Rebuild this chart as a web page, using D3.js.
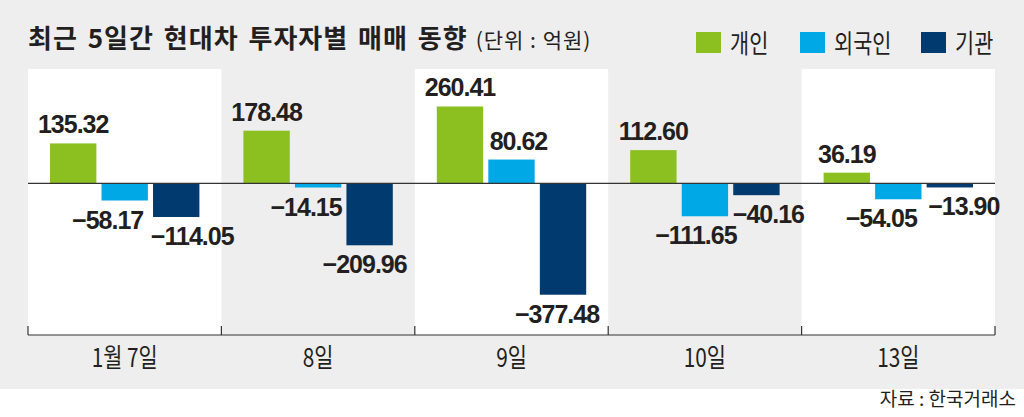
<!DOCTYPE html>
<html>
<head>
<meta charset="utf-8">
<script src="https://cdn.jsdelivr.net/npm/d3@7"></script>
<style>
  body { margin: 0; background: #fff; }
  svg { display: block; }
</style>
</head>
<body>
<div id="chart"></div>
<script>
const days = ["1월 7일", "8일", "9일", "10일", "13일"]
const seriesNames = ["개인", "외국인", "기관"]
const individual = [135.32, 178.48, 260.41, 112.60, 36.19]
const foreign = [-58.17, -14.15, 80.62, -111.65, -54.05]
const institution = [-114.05, -209.96, -377.48, -40.16, -13.90]

// horizontal nudges for value labels so neighbours don't collide (as in print)
const labelShift = [[0, -17, 16], [0, -12, -5], [0, 7, -6], [0, -9, 12], [0, -17, 14]]

const width = 1024, height = 417
const plot = { left: 28, right: 995, top: 69, bottom: 335 }

const svg = d3.select('#chart').append('svg')
  .attr('width', width)
  .attr('height', height)

// grey card behind everything
svg.append('rect')
  .attr('width', width)
  .attr('height', 389)
  .attr('fill', '#eeeeee')

const x0 = d3.scaleBand().domain(days).range([plot.left, plot.right])
const x1 = d3.scaleBand().domain(seriesNames).range([22, x0.bandwidth() - 22]).paddingInner(0.1)
const y = d3.scaleLinear().domain([-514, 387.5]).range([plot.bottom, plot.top])
const color = d3.scaleOrdinal().domain(seriesNames).range(['#8cc021', '#00a8e6', '#003a6e'])

const rows = days.map((d, i) => ({
  day: d,
  i: i,
  values: [individual[i], foreign[i], institution[i]].map((v, j) => ({ key: seriesNames[j], value: v, shift: labelShift[i][j] }))
}))

// alternating white panels
svg.append('g')
  .selectAll('rect')
  .data(rows.filter(r => r.i % 2 === 0))
  .join('rect')
  .attr('x', d => x0(d.day))
  .attr('y', plot.top)
  .attr('width', x0.bandwidth())
  .attr('height', plot.bottom - plot.top)
  .attr('fill', '#fff')

const groups = svg.append('g')
  .selectAll('g')
  .data(rows)
  .join('g')
  .attr('transform', d => `translate(${x0(d.day)},0)`)

groups.selectAll('rect')
  .data(d => d.values)
  .join('rect')
  .attr('x', d => x1(d.key))
  .attr('y', d => y(Math.max(0, d.value)))
  .attr('width', x1.bandwidth())
  .attr('height', d => Math.abs(y(d.value) - y(0)))
  .attr('fill', d => color(d.key))

groups.selectAll('text')
  .data(d => d.values)
  .join('text')
  .attr('x', d => x1(d.key) + x1.bandwidth() / 2 + d.shift)
  .attr('y', d => d.value >= 0 ? y(d.value) - 10 : y(d.value) + 28)
  .attr('text-anchor', 'middle')
  .style('font-family', '"Liberation Sans", Arial, sans-serif')
  .style('font-weight', 'bold')
  .style('font-size', '25px')
  .style('letter-spacing', '-1px')
  .style('fill', '#231f20')
  .text(d => (d.value < 0 ? '\u2212' : '') + Math.abs(d.value).toFixed(2))

// zero line
svg.append('line')
  .attr('x1', plot.left).attr('x2', plot.right)
  .attr('y1', y(0)).attr('y2', y(0))
  .attr('stroke', '#333').attr('stroke-width', 1.2)

// bottom axis with ticks on the panel edges
const axis = svg.append('g').attr('transform', `translate(0,${plot.bottom})`)
axis.append('line')
  .attr('x1', plot.left).attr('x2', plot.right)
  .attr('stroke', '#333').attr('stroke-width', 1.2)
axis.selectAll('.tick')
  .data(days.map(d => x0(d)).concat([plot.right]))
  .join('line')
  .attr('class', 'tick')
  .attr('x1', d => d).attr('x2', d => d)
  .attr('y1', -9).attr('y2', 0)
  .attr('stroke', '#333').attr('stroke-width', 1.2)
axis.selectAll('.day')
  .data(days)
  .join('text')
  .attr('class', 'day')
  .attr('transform', d => `translate(${x0(d) + x0.bandwidth() / 2},32) scale(0.8,1)`)
  .attr('text-anchor', 'middle')
  .style('font-family', '"Noto Sans CJK KR", sans-serif')
  .style('font-size', '26px')
  .style('fill', '#231f20')
  .text(d => d)

// title
const title = svg.append('text')
  .attr('x', 28)
  .attr('y', 48)
  .style('font-family', '"Noto Sans CJK KR", sans-serif')
  .style('fill', '#231f20')
title.append('tspan')
  .style('font-weight', 'bold')
  .style('font-size', '26px')
  .style('letter-spacing', '1px')
  .style('word-spacing', '3px')
  .text('최근 5일간 현대차 투자자별 매매 동향')
title.append('tspan')
  .attr('dx', 8)
  .style('font-size', '21px')
  .style('letter-spacing', '1px')
  .text('(단위 : 억원)')

// legend
const legendX = [696, 800, 921]
const legend = svg.append('g')
  .selectAll('g')
  .data(seriesNames)
  .join('g')
  .attr('transform', (d, i) => `translate(${legendX[i]},32)`)
legend.append('rect')
  .attr('width', 25)
  .attr('height', 21)
  .attr('fill', d => color(d))
legend.append('text')
  .attr('transform', 'translate(34,21) scale(0.8,1)')
  .style('font-family', '"Noto Sans CJK KR", sans-serif')
  .style('font-size', '26px')
  .style('fill', '#231f20')
  .text(d => d)

// source
svg.append('text')
  .attr('x', 1016)
  .attr('y', 406)
  .attr('text-anchor', 'end')
  .style('font-family', '"Noto Sans CJK KR", sans-serif')
  .style('font-size', '19px')
  .style('fill', '#231f20')
  .text('자료 : 한국거래소')
</script>
</body>
</html>
